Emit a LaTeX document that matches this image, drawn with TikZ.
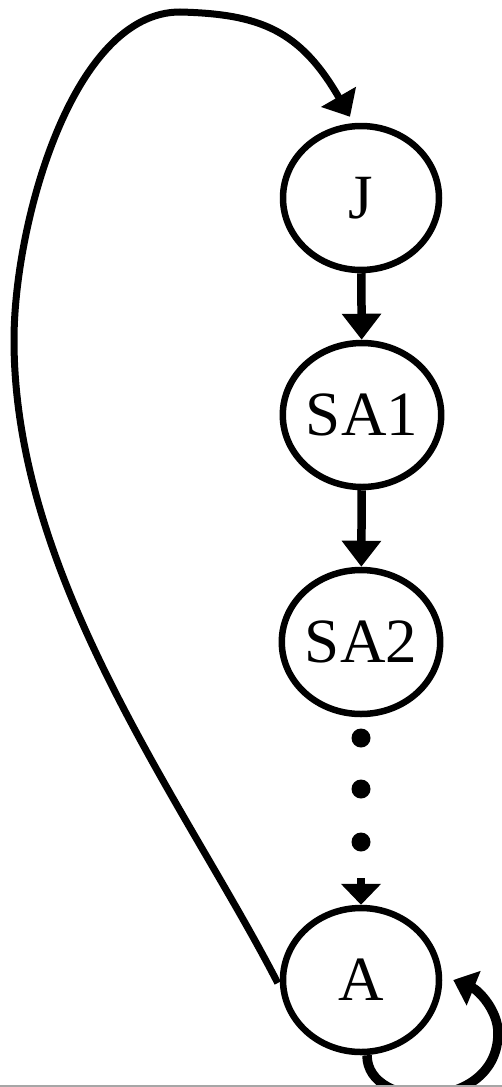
\documentclass[tikz,border=0pt]{standalone}
\usepackage{fontspec}
\setmainfont{Liberation Serif}
\usetikzlibrary{arrows.meta,calc,shapes.geometric}
\begin{document}
\begin{tikzpicture}[x=1pt,y=-1pt,
  state/.style={ellipse,draw,line width=6.5pt,minimum width=156pt,minimum height=144pt,inner sep=0pt,font=\fontsize{63}{70}\selectfont},
  arr/.style={line width=8.5pt,-{Triangle[width=38pt,length=26pt]}},
  bigarr/.style={line width=7pt,-{Triangle[width=39pt,length=23pt]}},
  looparr/.style={line width=9.5pt,-{Triangle[width=36pt,length=22pt]}},
  dotnode/.style={circle,fill,inner sep=0pt,minimum size=19pt}]
\useasboundingbox (0,0) rectangle (502,1087);
\clip (0,0) rectangle (502,1087);
\node[state] (J) at (361,198) {J};
\node[state] (SA1) at (362,415) {SA1};
\node[state] (SA2) at (361,642) {SA2};
\node[state] (A) at (361,980) {A};
\node[dotnode] (d1) at (361,738) {};
\node[dotnode] (d2) at (361,789) {};
\node[dotnode] (d3) at (361,842) {};
\coordinate (stub) at (361,878);
\draw[arr] (J) -- (SA1);
\draw[arr] (SA1) -- (SA2);
\draw[arr,-{Triangle[width=39pt,length=21pt]}] (stub) -- (A);
\draw[bigarr] ($(A.west)+(-2,3)$) .. controls (186,805) and (14,580) .. (14,340)
  .. controls (14,225) and (72,12) .. (180,12)
  .. controls (260,14) and (300,30) .. ($(J.north)+(-11,-6)$);
\draw[looparr] ($(A.south)+(6,0)$) .. controls (367,1112) and (498,1112) .. (498,1033)
  .. controls (498,1010) and (478,990) .. ($(A.east)+(11,0)$);
\draw[gray!70,line width=1.2pt] (0,1086) -- (502,1086);
\end{tikzpicture}
\end{document}
